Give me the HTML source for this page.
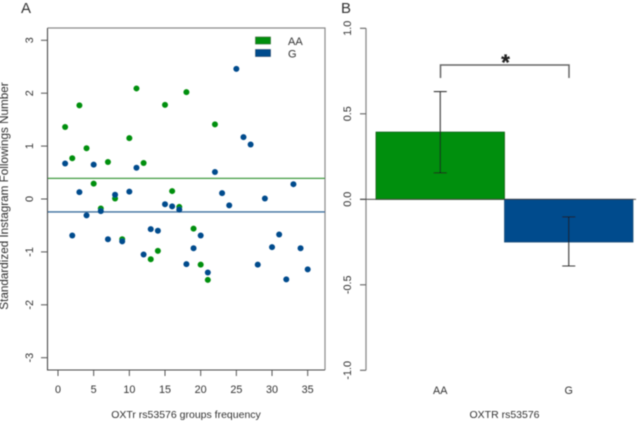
<!DOCTYPE html>
<html>
<head>
<meta charset="utf-8">
<style>
html,body{margin:0;padding:0;background:#fff;width:643px;height:421px;overflow:hidden}
svg{display:block}
text{font-family:"Liberation Sans",sans-serif;fill:#333}
</style>
</head>
<body>
<svg id="chart" width="643" height="421" viewBox="0 0 643 421" xmlns="http://www.w3.org/2000/svg">
<defs><filter id="soft" x="-5%" y="-5%" width="110%" height="110%"><feGaussianBlur stdDeviation="0.45"/></filter></defs>
<g id="root" filter="url(#soft)"></g>
</svg>
<script>
const aaValues = [1.36,0.77,1.77,0.96,0.29,-0.18,0.70,0.01,-0.76,1.15,2.09,0.68,-1.14,-0.98,1.78,0.15,-0.15,2.02,-0.56,-1.24,-1.53,1.41];
const gValues = [0.67,-0.69,0.13,-0.31,0.65,-0.23,-0.76,0.08,-0.80,0.14,0.59,-1.05,-0.57,-0.60,-0.10,-0.14,-0.20,-1.23,-0.93,-0.69,-1.39,0.51,0.11,-0.12,2.46,1.17,1.03,-1.24,0.01,-0.91,-0.67,-1.52,0.28,-0.93,-1.33];
const aaMean = 0.39;
const gMean = -0.245;
const scatterXTicks = [0,5,10,15,20,25,30,35];
const scatterYTicks = [-3,-2,-1,0,1,2,3];
const barCategories = ['AA','G'];
const barValues = [0.393,-0.25];
const barErrLow = [0.154,-0.39];
const barErrHigh = [0.63,-0.103];
const barYTicks = ['-1.0','-0.5','0.0','0.5','1.0'];

const GREEN = '#008f0b', BLUE = '#004b8d', AXIS = '#555';
const root = document.getElementById('root');
const NS = 'http://www.w3.org/2000/svg';
function mk(tag, attrs, parent, txt){
  const e = document.createElementNS(NS, tag);
  for (const k in attrs) e.setAttribute(k, attrs[k]);
  if (txt !== undefined) e.textContent = txt;
  (parent || root).appendChild(e);
  return e;
}
const sx = v => 58 + v * 7.134;
const sy = v => 199 - v * 52.9;
const by = v => 199.3 - v * 171;
const barLeft = 376, barW = 128.5;

// Panel letters
let el = mk('text',{x:21,y:13,'font-size':15},root,'A');


el = mk('text',{x:341,y:13,'font-size':15},root,'B');



// Panel A frame: top/right lighter, left/bottom darker
el = mk('path',{d:'M47.5 28H325V370',fill:'none',stroke:'#8a8a8a','stroke-width':1.2});


el = mk('path',{d:'M47.5 28V370H325',fill:'none',stroke:'#4a4a4a','stroke-width':1.1});



// Scatter x axis
scatterXTicks.forEach(t => {
  const tick = mk('line',{x1:sx(t),x2:sx(t),y1:370,y2:376,stroke:AXIS,'stroke-width':1});
  
  
  const lab = mk('text',{x:sx(t),y:393,'font-size':10.8,'text-anchor':'middle'},root,String(t));
  
  
});
// Scatter y axis
scatterYTicks.forEach(t => {
  const tick = mk('line',{x1:41,x2:47.5,y1:sy(t),y2:sy(t),stroke:AXIS,'stroke-width':1});
  
  
  const lab = mk('text',{x:0,y:0,'font-size':10.8,'text-anchor':'middle',transform:'translate(33,'+sy(t)+') rotate(-90)'},root,String(t));
  
  
});
el = mk('text',{x:0,y:0,'font-size':11.7,'text-anchor':'middle',transform:'translate(8,196) rotate(-90)'},root,'Standardized Instagram Followings Number');


el = mk('text',{x:186,y:418,'font-size':10.5,'text-anchor':'middle'},root,'OXTr rs53576 groups frequency');



// Mean lines
el = mk('line',{x1:48,x2:325,y1:sy(aaMean),y2:sy(aaMean),stroke:'#3f9a3f','stroke-width':1.3});


el = mk('line',{x1:48,x2:325,y1:sy(gMean),y2:sy(gMean),stroke:'#3a6f9e','stroke-width':1.3});



// Points
aaValues.forEach((v,i) => {
  const p = mk('circle',{cx:sx(i+1),cy:sy(v),r:3,fill:GREEN});
  
  
});
gValues.forEach((v,i) => {
  const p = mk('circle',{cx:sx(i+1),cy:sy(v),r:3,fill:BLUE});
  
  
});

// Legend
el = mk('rect',{x:255.5,y:37,width:15,height:7,fill:GREEN,stroke:'#2b5f2b','stroke-width':0.6});


el = mk('rect',{x:255.5,y:49.5,width:15,height:7,fill:BLUE,stroke:'#1d3f60','stroke-width':0.6});


el = mk('text',{x:288,y:45,'font-size':11},root,'AA');


el = mk('text',{x:288,y:57.7,'font-size':11},root,'G');



// Panel B axis
el = mk('line',{x1:366,x2:366,y1:by(1),y2:by(-1),stroke:'#8a8a8a','stroke-width':1.3});


barYTicks.forEach(t => {
  const v = parseFloat(t);
  const tick = mk('line',{x1:360,x2:366,y1:by(v),y2:by(v),stroke:AXIS,'stroke-width':1});
  
  
  const lab = mk('text',{x:0,y:0,'font-size':10.8,'text-anchor':'middle',transform:'translate(351,'+by(v)+') rotate(-90)'},root,t);
  
  
});

// Bars
barCategories.forEach((c,i) => {
  const x = barLeft + i * barW;
  const v = barValues[i];
  const top = Math.min(by(v), by(0));
  const h = Math.abs(by(v) - by(0));
  const bar = mk('rect',{x:x,y:top,width:barW,height:h,fill:i===0?GREEN:BLUE,stroke:i===0?'#0b5a12':'#1d4f78','stroke-width':0.8});
  
  
});
el = mk('line',{x1:360,x2:636,y1:by(0),y2:by(0),stroke:'#333','stroke-width':0.9});



// Error bars and category labels
barCategories.forEach((c,i) => {
  const cx = barLeft + (i + 0.5) * barW;
  const d = 'M'+(cx-6.5)+' '+by(barErrHigh[i])+'H'+(cx+6.5)+'M'+cx+' '+by(barErrHigh[i])+'V'+by(barErrLow[i])+'M'+(cx-6.5)+' '+by(barErrLow[i])+'H'+(cx+6.5);
  const err = mk('path',{d:d,fill:'none',stroke:'#1a1a1a','stroke-opacity':0.85,'stroke-width':1.1});
  
  
  const lab = mk('text',{x:cx,y:394,'font-size':10.8,'text-anchor':'middle'},root,c);
  
  
});
el = mk('text',{x:504.5,y:418,'font-size':10.5,'text-anchor':'middle'},root,'OXTR rs53576');



// Significance bracket
el = mk('path',{d:'M440.5 78V65H569V78',fill:'none',stroke:'#666','stroke-width':1.5});


el = mk('text',{x:505.5,y:70,'font-size':22,'font-weight':'bold','text-anchor':'middle',style:'fill:#222;stroke:#222;stroke-width:0.3'},root,'*');


</script>
</body>
</html>
